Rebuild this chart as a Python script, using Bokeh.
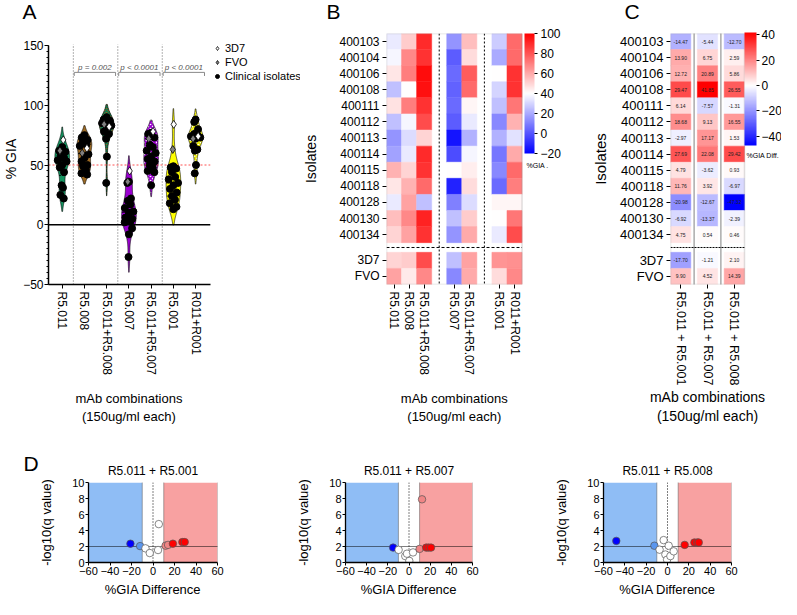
import numpy as np
from bokeh.plotting import figure
from bokeh.layouts import row, column
from bokeh.models import (Range1d, FixedTicker, Span, Label, Legend, LegendItem, ColorBar,
                          LinearColorMapper, ColumnDataSource, BoxAnnotation)
from bokeh.transform import transform
from bokeh.core.properties import value
from bokeh.embed import file_html
from bokeh.resources import INLINE

FONT = "Liberation Sans"

# ============================ DATA ============================
# ---- Panel A : % GIA per mAb combination (violins) ----
a_groups = ["R5.011", "R5.008", "R5.011+R5.008", "R5.007", "R5.011+R5.007", "R5.001", "R011+R001"]
a_clin_r5011 = [65, 62, 61, 58, 56, 54, 53, 50, 48, 44, 33, 31, 25, 22]
a_clin_r5008 = [75, 73, 71, 69, 67, 66, 59, 56, 53, 50, 49, 46, 43, 42]
a_clin_r5011_r5008 = [90, 88, 87, 87, 86, 85, 83, 80, 78, 76, 72, 57, 35]
a_clin_r5007 = [36, 35, 22, 20, 17, 14, 11, 10, 6, 5, 4, 3, 2, -3, -8, -27]
a_clin_r5011_r5007 = [77, 76, 73, 67, 65, 62, 60, 57, 55, 53, 50, 48, 45, 44, 33]
a_clin_r5001 = [49, 48, 47, 44, 40, 38, 35, 33, 30, 27, 24, 21, 18, 15, 13]
a_clin_r011_r001 = [88, 86, 80, 76, 75, 74, 73, 72, 66, 63, 62, 50, 43]
a_3d7 = [71, 64, 82, 45, 78, 84, 74]
a_fvo = [62, 60, 84, 36, 72, 63, 72]
a_pvalues = ["p = 0.002", "p < 0.0001", "p < 0.0001"]

# ---- Panel B : % GIA heatmap ----
b_isolates = ["400103", "400104", "400106", "400108", "400111", "400112", "400113",
              "400114", "400115", "400118", "400128", "400130", "400134"]
b_controls = ["3D7", "FVO"]
b_combos = ["R5.011", "R5.008", "R5.011+R5.008", "R5.007", "R5.011+R5.007", "R5.001", "R011+R001"]
b_combo_group = [0, 0, 0, 1, 1, 2, 2]
gia_r5011 = [35, 38, 46, 25, 47, 25, 15, 18, 58, 46, 35, 55, 50, 50, 62]
gia_r5008 = [52, 68, 70, 40, 70, 38, 32, 35, 50, 58, 62, 68, 62, 52, 45]
gia_r5011_r5008 = [90, 88, 97, 96, 88, 82, 50, 90, 88, 75, 25, 92, 88, 82, 68]
gia_r5007 = [15, 2, 5, 3, 5, 2, -15, -2, 40, -12, 10, 25, 15, 25, 12]
gia_r5011_r5007 = [55, 48, 78, 75, 42, 35, 22, 38, 44, 48, 32, 52, 60, 62, 60]
gia_r5001 = [28, 20, 40, 30, 25, 12, 22, 8, 12, 5, 42, 40, 35, 65, 48]
gia_r011_r001 = [75, 75, 88, 88, 72, 58, 33, 60, 75, 70, 42, 72, 82, 66, 68]

# ---- Panel C : % GIA difference heatmap ----
c_combos = ["R5.011 + R5.001", "R5.011 + R5.007", "R5.011 + R5.008"]
diff_r5001 = [-14.47, 13.90, 12.72, 29.47, 6.14, 18.68, -2.97, 27.69, 4.79, 11.76, -20.98, -6.92, 4.75, -17.70, 9.90]
diff_r5007 = [-5.44, 6.75, 20.89, 41.85, -7.57, 9.13, 17.17, 22.08, -3.62, 3.92, -12.67, -13.37, 0.54, -1.21, 4.52]
diff_r5008 = [-12.70, 2.59, 5.86, 26.55, -1.31, 16.55, 1.53, 29.42, 0.93, -6.97, -47.32, -2.39, 0.46, 2.10, 14.39]

# ---- Panel D : volcano plots ----
d_titles = ["R5.011 + R5.001", "R5.011 + R5.007", "R5.011 + R5.008"]
d1_diff = [-21, -12, -7, -3, 4.7, 5.4, 11.7, 14, 18.5, 27.3, 29.5]
d1_logq = [2.35, 2.05, 1.77, 1.18, 1.56, 4.8, 2.1, 2.2, 2.35, 2.55, 2.55]
d2_diff = [-15, -9.8, -3.5, -1.9, 0.3, 3.8, 10.0, 12.3, 16.3, 18.5, 20.8]
d2_logq = [1.86, 1.58, 0.8, 1.1, 0.2, 1.26, 1.7, 7.9, 1.86, 1.86, 1.86]
d3_diff = [-48, -12.3, -7.4, -3.6, -2, -0.4, 1.1, 2.7, 5.8, 16.1, 25.2, 27.8, 29.3]
d3_logq = [2.7, 2.1, 1.6, 2.8, 1.0, 0.35, 2.1, 0.8, 1.4, 2.2, 2.5, 2.5, 2.5]
d_threshold = 10

XLABEL = "mAb combinations\n(150ug/ml each)"

# ============================ HELPERS ============================
def diverging(low, mid, high, n=256, lo_rgb=(0, 0, 255), hi_rgb=(255, 0, 0)):
    out = []
    for v in np.linspace(low, high, n):
        if v < mid:
            t = (mid - v) / (mid - low)
            c = [255 + (k - 255) * t for k in lo_rgb]
        else:
            t = (v - mid) / (high - mid)
            c = [255 + (k - 255) * t for k in hi_rgb]
        out.append("#%02x%02x%02x" % tuple(int(round(x)) for x in c))
    return out


def style_axis(ax, tick_px, label_px):
    ax.major_label_text_font = FONT
    ax.major_label_text_font_size = f"{tick_px}px"
    ax.major_label_text_color = "black"
    ax.axis_label_text_font = FONT
    ax.axis_label_text_font_size = f"{label_px}px"
    ax.axis_label_text_font_style = "normal"
    ax.axis_label_text_color = "black"
    ax.axis_line_color = "black"
    ax.major_tick_line_color = "black"
    ax.minor_tick_line_color = None
    ax.major_tick_in = 0
    ax.major_tick_out = 4


def letter(p, text, dx, dy=11):
    p.add_layout(Label(x=dx, y=dy, x_units="screen", y_units="screen", text=text,
                       text_font=FONT, text_font_size="21px", text_baseline="bottom",
                       text_align="left", text_color="black"), "above")


def below_label(p, xc, size_px, gap):
    p.add_layout(Label(x=xc, y=-gap, x_units="data", y_units="screen", text=XLABEL,
                       text_font=FONT, text_font_size=f"{size_px}px", text_align="center",
                       text_baseline="bottom", text_color="black"), "below")

TOP_H = 428
T_BORDER, B_BORDER = 33, 144
FH = TOP_H - T_BORDER - B_BORDER

# ============================ PANEL A ============================
A_W, A_L = 300, 43
A_FW = A_W - A_L
a_px = 22.67                       # px per category
a_x0 = -14 / a_px
a_xend = 6.66
a_py = (FH - 12) / 200.0           # px per % GIA
a_top = 150 + 12 / a_py
pA = figure(width=A_W, height=TOP_H, x_range=Range1d(a_x0, a_x0 + A_FW / a_px),
            y_range=Range1d(-50, a_top),
            output_backend="svg", toolbar_location=None,
            min_border_left=A_L - 3, min_border_right=0, min_border_top=T_BORDER, min_border_bottom=B_BORDER)
pA.grid.visible = False
pA.outline_line_color = None

a_clin = [a_clin_r5011, a_clin_r5008, a_clin_r5011_r5008, a_clin_r5007,
          a_clin_r5011_r5007, a_clin_r5001, a_clin_r011_r001]
violin_style = [
    dict(fill_color="#15925f"),
    dict(fill_color="#9c6a24"),
    dict(fill_color="#8a6020", hatch_pattern="diagonal_cross", hatch_color="#0e7a50", hatch_scale=4, hatch_weight=1.5),
    dict(fill_color="#9a00d0"),
    dict(fill_color="white", hatch_pattern="diagonal_cross", hatch_color="#9a00d0", hatch_scale=4, hatch_weight=1.6),
    dict(fill_color="#ffff00"),
    dict(fill_color="white", hatch_pattern="diagonal_cross", hatch_color="#e8e800", hatch_scale=4, hatch_weight=1.6),
]
for loc in [0.5, 2.5, 4.5]:
    pA.segment(x0=[loc], y0=[-50], x1=[loc], y1=[151], line_color="#666666", line_width=1, line_dash="1 2")

jit = [0.0, -0.55, 0.55, -0.25, 0.3, -0.75, 0.75]
cx, cy, tx, ty, fx, fy = [], [], [], [], [], []
med_x0, med_x1, med_y, q_x0, q_x1, q_y = [], [], [], [], [], []
for i, vals_c in enumerate(a_clin):
    vals = np.array(list(vals_c) + [a_3d7[i], a_fvo[i]], float)
    bw = 1.06 * vals.std(ddof=1) * len(vals) ** -0.2 * 0.75
    grid = np.linspace(vals.min() - 1.6 * bw, vals.max() + 1.6 * bw, 160)
    dens = np.exp(-0.5 * ((grid[None, :] - vals[:, None]) / bw) ** 2).sum(0)
    hw = dens / dens.max() * 0.33
    xs = np.concatenate([i - hw, (i + hw)[::-1]])
    ys = np.concatenate([grid, grid[::-1]])
    pA.patch(xs, ys, line_color="black", line_width=0.6, **violin_style[i])
    for k, v in enumerate(sorted(vals_c, reverse=True)):
        cx.append(i + jit[k % 7] * np.interp(v, grid, hw) * 0.85)
        cy.append(v)
    tx.append(i + 0.35 * np.interp(a_3d7[i], grid, hw)); ty.append(a_3d7[i])
    fx.append(i - 0.35 * np.interp(a_fvo[i], grid, hw)); fy.append(a_fvo[i])
    m = np.median(vals)
    w = np.interp(m, grid, hw)
    med_x0.append(i - w); med_x1.append(i + w); med_y.append(m)
    for q in np.percentile(vals, [25, 75]):
        w = np.interp(q, grid, hw)
        q_x0.append(i - w); q_x1.append(i + w); q_y.append(q)

pA.segment(x0=med_x0, y0=med_y, x1=med_x1, y1=med_y, line_color="black", line_width=1)
pA.segment(x0=q_x0, y0=q_y, x1=q_x1, y1=q_y, line_color="black", line_width=0.8, line_dash="2 1")
pA.segment(x0=[a_x0], y0=[50], x1=[a_xend], y1=[50], line_color="#ff5050", line_width=1, line_dash="2 2")
pA.segment(x0=[a_x0], y0=[0], x1=[a_xend], y1=[0], line_color="black", line_width=1.5)

r_clin = pA.scatter(cx, cy, marker="circle", size=7, fill_color="black", line_color="black")
r_3d7 = pA.scatter(tx, ty, marker="diamond", size=8, fill_color="white", line_color="black", line_width=0.8)
r_fvo = pA.scatter(fx, fy, marker="diamond", size=8, fill_color="#808080", line_color="black", line_width=0.8)

# p-value brackets
for k, d in enumerate([0.5, 2.5, 4.5]):
    x0, x1 = d + 0.04, d + 1.9
    pA.segment(x0=[x0, x0, x1], y0=[127.5, 127.5, 127.5], x1=[x1, x0, x1], y1=[127.5, 124.5, 124.5],
               line_color="#888888", line_width=1)
    pA.add_layout(Label(x=(x0 + x1) / 2, y=131.5, text=a_pvalues[k], text_font=FONT, text_font_size="8px",
                        text_font_style="italic", text_align="center", text_baseline="middle",
                        text_color="#555555"))

style_axis(pA.yaxis[0], 12, 14)
pA.yaxis.ticker = FixedTicker(ticks=[-50, 0, 50, 100, 150], minor_ticks=list(range(-50, 151, 5)))
pA.yaxis.bounds = (-50, 150)
pA.yaxis.minor_tick_line_color = "black"
pA.yaxis.minor_tick_out = 2
pA.yaxis.minor_tick_in = 0
pA.yaxis.axis_line_width = 1.5
pA.yaxis.major_label_standoff = 1
pA.yaxis.axis_label = "% GIA"
pA.yaxis.axis_label_standoff = 1
style_axis(pA.xaxis[0], 12, 13)
pA.xaxis.ticker = FixedTicker(ticks=list(range(len(a_groups))))
pA.xaxis.bounds = (a_x0, a_xend)
pA.xaxis.major_label_overrides = {i: g for i, g in enumerate(a_groups)}
pA.xaxis.major_label_orientation = "vertical"
pA.xaxis.axis_line_width = 1.5
pA.xaxis.major_label_standoff = 3
below_label(pA, (len(a_groups) - 1) / 2, 13, 12)

legend = Legend(items=[LegendItem(label="3D7", renderers=[r_3d7]),
                       LegendItem(label="FVO", renderers=[r_fvo]),
                       LegendItem(label="Clinical isolates", renderers=[r_clin])],
                location=(int(round((a_xend - a_x0) * a_px)) - 1, FH - 9 - 40), padding=0, margin=0, spacing=2,
                glyph_width=10, glyph_height=12, label_height=12, label_standoff=3,
                label_text_font=FONT, label_text_font_size="11px", label_text_color="black",
                border_line_color=None, background_fill_alpha=0)
pA.add_layout(legend)
letter(pA, "A", -26)

# ============================ PANEL B ============================
B_W, B_L = 282, 79
B_FW = B_W - B_L - 2
b_px = 139 / 9.0
row_pos = [i + 0.5 for i in range(len(b_isolates))] + \
          [len(b_isolates) + 0.6 + j + 0.5 for j in range(len(b_controls))]
row_labels = b_isolates + b_controls
y_max = len(b_isolates) + 0.6 + len(b_controls)
b_ncols = len(b_combos) + max(b_combo_group)

b_cols = [gia_r5011, gia_r5008, gia_r5011_r5008, gia_r5007, gia_r5011_r5007, gia_r5001, gia_r011_r001]
b_xpos = [i + g + 0.5 for i, g in enumerate(b_combo_group)]
bx, by, bv = [], [], []
for j, col in enumerate(b_cols):
    for r, v in enumerate(col):
        bx.append(b_xpos[j]); by.append(row_pos[r]); bv.append(v)
b_mapper = LinearColorMapper(palette=diverging(-20, 40, 100), low=-20, high=100)
pB = figure(width=B_W, height=TOP_H, x_range=Range1d(0, B_FW / b_px),
            y_range=Range1d(y_max, 0), output_backend="svg", toolbar_location=None,
            min_border_left=B_L, min_border_right=0, min_border_top=T_BORDER, min_border_bottom=B_BORDER)
pB.grid.visible = False
pB.outline_line_color = None
srcB = ColumnDataSource(dict(x=bx, y=by, v=bv))
pB.rect("x", "y", width=1, height=1, source=srcB,
        fill_color=transform("v", b_mapper), line_color=transform("v", b_mapper), line_width=0.5)
pB.add_layout(BoxAnnotation(left=0, right=b_ncols, top=0, bottom=y_max, fill_alpha=0,
                            line_color="#999999", line_width=1.5))
for k in range(1, max(b_combo_group) + 1):
    loc = b_combo_group.index(k) + k - 0.5
    pB.segment(x0=[loc], y0=[0], x1=[loc], y1=[y_max], line_color="black", line_width=1, line_dash="2 2")
pB.segment(x0=[0], y0=[len(b_isolates) + 0.3], x1=[b_ncols], y1=[len(b_isolates) + 0.3],
           line_color="black", line_width=1, line_dash="3 2")
style_axis(pB.yaxis[0], 12, 14)
pB.yaxis.ticker = FixedTicker(ticks=row_pos)
pB.yaxis.major_label_overrides = dict(zip(row_pos, row_labels))
pB.yaxis.major_label_standoff = 3
pB.yaxis.axis_line_color = None
pB.yaxis.axis_label = "Isolates"
pB.yaxis.axis_label_standoff = 17
style_axis(pB.xaxis[0], 12, 13)
pB.xaxis.ticker = FixedTicker(ticks=b_xpos)
pB.xaxis.major_label_overrides = dict(zip(b_xpos, b_combos))
pB.xaxis.major_label_orientation = "vertical"
pB.xaxis.axis_line_color = None
pB.xaxis.major_label_standoff = 3
below_label(pB, b_ncols / 2, 13, 12)
cbB = ColorBar(color_mapper=b_mapper, ticker=FixedTicker(ticks=[-20, 0, 20, 40, 60, 80, 100]),
               width=10, height=120, location=(138, FH - 120), padding=0, margin=0,
               major_label_text_font=FONT, major_label_text_font_size="12px",
               major_label_text_color="black", major_tick_line_color="black",
               major_tick_in=0, major_tick_out=3, label_standoff=3,
               bar_line_color=None, border_line_color=None, background_fill_color=None)
pB.add_layout(cbB)
pB.add_layout(Label(x=140, y=8.2, x_units="screen", y_units="data", text="%GIA .",
                    text_font=FONT, text_font_size="7px", text_baseline="middle", text_color="black"))
letter(pB, "B", -60)

# ============================ PANEL C ============================
C_W, C_L = 199, 88
C_FW = C_W - C_L
c_gap = 0.32
c_ncols = len(c_combos) + c_gap * (len(c_combos) - 1)
c_px = 74 / c_ncols
c_xpos = [i * (1 + c_gap) + 0.5 for i in range(len(c_combos))]
c_cols = [diff_r5001, diff_r5007, diff_r5008]
cxs, cys, cvs, cts = [], [], [], []
for j, col in enumerate(c_cols):
    for r, v in enumerate(col):
        cxs.append(c_xpos[j]); cys.append(row_pos[r]); cvs.append(v); cts.append(f"{v:.2f}")
c_low = min(min(c) for c in c_cols)
c_high = max(max(c) for c in c_cols)
c_mapper = LinearColorMapper(palette=diverging(c_low, 0, c_high), low=c_low, high=c_high)
pC = figure(width=C_W, height=TOP_H, x_range=Range1d(0, C_FW / c_px),
            y_range=Range1d(y_max, 0), output_backend="svg", toolbar_location=None,
            min_border_left=C_L, min_border_right=0, min_border_top=T_BORDER, min_border_bottom=B_BORDER)
pC.grid.visible = False
pC.outline_line_color = None
srcC = ColumnDataSource(dict(x=cxs, y=cys, v=cvs, t=cts))
pC.rect("x", "y", width=1, height=1, source=srcC,
        fill_color=transform("v", c_mapper), line_color=transform("v", c_mapper), line_width=0.5)
pC.text("x", "y", text="t", source=srcC, text_font=value(FONT), text_font_size=value("5px"),
        text_align="center", text_baseline="middle", text_color="#222222")
pC.add_layout(BoxAnnotation(left=0, right=c_ncols, top=0, bottom=y_max, fill_alpha=0,
                            line_color="#999999", line_width=1.5))
for j in range(1, len(c_combos)):
    loc = j * (1 + c_gap) - c_gap / 2
    pC.segment(x0=[loc], y0=[0], x1=[loc], y1=[y_max], line_color="black", line_width=1, line_dash="1 1")
pC.segment(x0=[0], y0=[len(b_isolates) + 0.3], x1=[c_ncols], y1=[len(b_isolates) + 0.3],
           line_color="black", line_width=1, line_dash="2 1")
style_axis(pC.yaxis[0], 13, 15)
pC.yaxis.ticker = FixedTicker(ticks=row_pos)
pC.yaxis.major_label_overrides = dict(zip(row_pos, row_labels))
pC.yaxis.major_label_standoff = 3
pC.yaxis.axis_line_color = None
pC.yaxis.axis_label = "Isolates"
pC.yaxis.axis_label_standoff = 8
style_axis(pC.xaxis[0], 12.5, 14)
pC.xaxis.ticker = FixedTicker(ticks=c_xpos)
pC.xaxis.major_label_overrides = dict(zip(c_xpos, c_combos))
pC.xaxis.major_label_orientation = "vertical"
pC.xaxis.axis_line_color = None
pC.xaxis.major_label_standoff = 3
below_label(pC, c_ncols / 2, 14, 1)
cbC = ColorBar(color_mapper=c_mapper, ticker=FixedTicker(ticks=[-40, -20, 0, 20, 40]),
               width=12, height=113, location=(74, FH - 112), padding=0, margin=0,
               major_label_text_font=FONT, major_label_text_font_size="12px",
               major_label_text_color="black", major_tick_line_color="black",
               major_tick_in=0, major_tick_out=3, label_standoff=2,
               bar_line_color=None, border_line_color=None, background_fill_color=None)
pC.add_layout(cbC)
pC.add_layout(Label(x=76, y=7.6, x_units="screen", y_units="data", text="%GIA Diff.",
                    text_font=FONT, text_font_size="7px", text_baseline="middle", text_color="black"))
letter(pC, "C", -46)

# ============================ PANEL D ============================
def point_color(x):
    a = abs(x)
    if a < d_threshold:
        return "white"
    if a < 1.5 * d_threshold:
        return "#5a96ee" if x < 0 else "#f08585"
    return "#0000ff" if x < 0 else "#ff0000"


D_H = 599 - TOP_H


def volcano(title, diffs, logqs, width, left, right):
    p = figure(width=width, height=D_H, x_range=Range1d(-60, 60), y_range=Range1d(0, 10),
               output_backend="svg", toolbar_location=None,
               min_border_left=left, min_border_right=right, min_border_top=54, min_border_bottom=36)
    p.grid.visible = False
    p.outline_line_color = None
    p.add_layout(Label(x=0, y=12, x_units="data", y_units="screen", text=title, text_font=FONT,
                       text_font_size="12px", text_align="center", text_baseline="middle",
                       text_color="black"), "above")
    p.add_layout(BoxAnnotation(left=-60, right=-d_threshold, fill_color="#8fbdf5", fill_alpha=1,
                               line_color=None, level="underlay"))
    p.add_layout(BoxAnnotation(left=d_threshold, right=60, fill_color="#f8a1a1", fill_alpha=1,
                               line_color=None, level="underlay"))
    for loc in (-d_threshold, d_threshold, 60):
        p.add_layout(Span(location=loc, dimension="height", line_color="#555555", line_width=1,
                          line_dash="1 1", level="underlay"))
    p.add_layout(Span(location=0, dimension="height", line_color="black", line_width=1,
                      line_dash="1 2", level="underlay"))
    p.add_layout(Span(location=2, dimension="width", line_color="black", line_width=1,
                      line_dash="1 1", level="underlay"))
    p.scatter(diffs, logqs, size=7.5, fill_color=[point_color(v) for v in diffs],
              line_color="#555555", line_width=0.7)
    style_axis(p.xaxis[0], 11, 13)
    style_axis(p.yaxis[0], 11, 13)
    p.xaxis.ticker = FixedTicker(ticks=list(range(-60, 61, 20)))
    p.yaxis.ticker = FixedTicker(ticks=list(range(0, 11, 2)))
    p.xaxis.major_tick_out = 3
    p.yaxis.major_tick_out = 3
    p.xaxis.major_label_standoff = 1
    p.yaxis.major_label_standoff = 1
    p.xaxis.axis_line_width = 1.3
    p.yaxis.axis_line_width = 1.3
    p.xaxis.axis_label = "%GIA Difference"
    p.xaxis.axis_label_standoff = 4
    p.yaxis.axis_label = "-log10(q value)"
    p.yaxis.axis_label_standoff = 15
    return p


pD1 = volcano(d_titles[0], d1_diff, d1_logq, 260, 88, 43)
pD2 = volcano(d_titles[1], d2_diff, d2_logq, 260, 85, 48)
pD3 = volcano(d_titles[2], d3_diff, d3_logq, 261, 83, 50)
letter(pD1, "D", -65, -6)

layout = column(row(pA, pB, pC), row(pD1, pD2, pD3))
open("out.html", "w").write(file_html(layout, INLINE))
